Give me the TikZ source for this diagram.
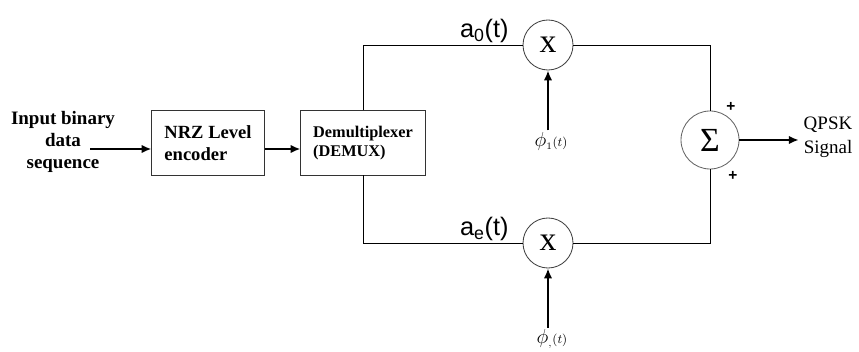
\documentclass[tikz,border=0pt]{standalone}
\usepackage{fontspec}
\setmainfont{Liberation Serif}
\newfontfamily\arialfont{Liberation Sans}
\usetikzlibrary{arrows.meta}

\begin{document}
\begin{tikzpicture}[x=0.025cm,y=-0.025cm,blk/.style={draw=black!80,line width=0.7pt,align=left,font=\fontsize{13.2}{15.5}\selectfont\bfseries},mix/.style={circle,draw=black!75,line width=0.6pt,minimum size=1.25cm,inner sep=0pt,font=\fontsize{24}{24}\selectfont},rel/.style={line width=0.6pt},sig/.style={line width=1.7pt,-{Latex[length=7pt,width=6pt]}},lab/.style={font=\arialfont\fontsize{18}{18}\selectfont,inner sep=1pt},pm/.style={font=\arialfont\bfseries\fontsize{11}{11}\selectfont,inner sep=0pt}]
\useasboundingbox (0,0) rectangle (859,352);
\node[align=center,font=\fontsize{13.5}{15.5}\selectfont\bfseries](src) at (63,142){Input binary\\data\\sequence};
\coordinate (in) at (90,149);
\node[blk,minimum width=2.8cm,minimum height=1.62cm](nrz) at (208,143){NRZ Level\\encoder};
\node[blk,minimum width=3.1cm,minimum height=1.6cm,font=\fontsize{11.6}{14}\selectfont\bfseries](demux) at (363,143){Demultiplexer\\(DEMUX)};
\node[mix](m1) at (548,45){x};
\node[mix](m2) at (548,243){x};
\node[mix,minimum size=1.45cm,draw=black!60,font=\fontsize{24}{24}\selectfont](sum) at (710,140){Σ};
\node[inner sep=1pt](phi1) at (551,141){\fontsize{15}{15}\selectfont$\phi_{\scriptscriptstyle 1}$\fontsize{9}{9}\selectfont$(t)$};
\node[inner sep=1pt](phi2) at (552,339){\fontsize{15}{15}\selectfont$\phi_{\scriptscriptstyle ,}$\fontsize{9}{9}\selectfont$(t)$};
\node[align=center,font=\fontsize{13.5}{17}\selectfont](out) at (828,137){QPSK\\Signal};
\node[pm](p1) at (731,107){+};
\node[pm](p2) at (733,176){+};
\draw[sig](in)--(in-|nrz.west);
\draw[sig](nrz.east|-in)--(demux.west|-in);
\draw[rel](demux.north)|-node[lab,pos=0.88,above]{a\textsubscript{0}(t)}(m1.west);
\draw[rel](demux.south)|-node[lab,pos=0.88,above]{a\textsubscript{e}(t)}(m2.west);
\draw[rel](m1.east)-|(sum.north);
\draw[rel](m2.east)-|(sum.south);
\draw[sig](m1|-phi1.north)--(m1.south);
\draw[sig](m2|-phi2.north)--(m2.south);
\draw[sig](sum.east)--(sum.east-|out.west);
\end{tikzpicture}
\end{document}
